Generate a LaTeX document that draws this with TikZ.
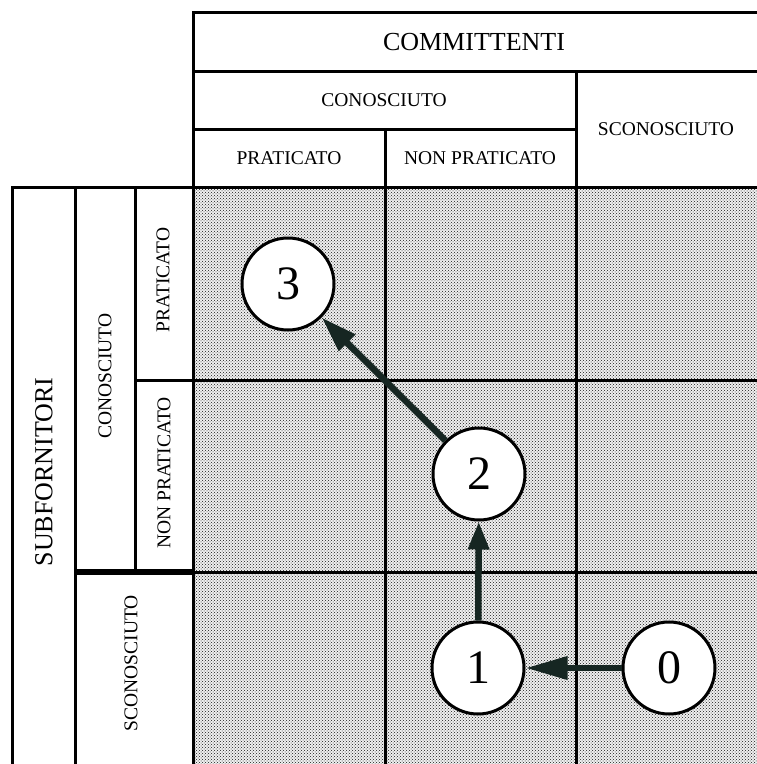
\documentclass[tikz,border=0pt]{standalone}
\usepackage{fontspec}
\setmainfont{Liberation Serif}
\usetikzlibrary{arrows.meta,patterns}
\definecolor{arrowink}{RGB}{22,38,34}
\begin{document}
\begin{tikzpicture}[x=1pt,y=-1pt,
  rule/.style={line width=3pt,line cap=rect},
  heavyrule/.style={line width=5.5pt},
  bigtext/.style={inner sep=0pt,font=\fontsize{26}{30}\selectfont},
  smalltext/.style={inner sep=0pt,font=\fontsize{19.5}{23}\selectfont},
  state/.style={circle,draw,fill=white,line width=3pt,minimum size=92pt,inner sep=0pt,
    font=\fontsize{48}{54}\selectfont},
  flow/.style={draw=arrowink,line width=6.5pt,
    -{Triangle[length=30pt,width=21pt]},arrowink}]
\useasboundingbox (0,0) rectangle (756,764);

% stippled field of the matrix
\fill[black!6] (193,187) rectangle (760,768);
\fill[pattern=crosshatch dots,pattern color=black!90] (193,187) rectangle (760,768);

% header of the columns
\draw[rule] (193,12) -- (760,12);
\draw[rule] (193,71) -- (760,71);
\draw[rule] (193,129) -- (576,129);
\draw[rule] (193,12) -- (193,768);
\draw[rule] (385,129) -- (385,768);
\draw[rule] (576,71) -- (576,768);

% rows and the side header
\draw[rule] (12,187) -- (760,187);
\draw[rule] (135,380) -- (760,380);
\draw[rule] (193,572) -- (760,572);
\draw[heavyrule] (75,572) -- (193,572);
\draw[rule] (12,187) -- (12,768);
\draw[rule] (75,187) -- (75,768);
\draw[rule] (135,187) -- (135,572);

% column labels
\node[bigtext] (committenti) at (474,42) {COMMITTENTI};
\node[smalltext] (cconosciuto) at (384,100) {CONOSCIUTO};
\node[smalltext] (cpraticato) at (289,158) {PRATICATO};
\node[smalltext] (cnonpraticato) at (480,158) {NON PRATICATO};
\node[smalltext] (csconosciuto) at (666,129) {SCONOSCIUTO};

% row labels
\node[bigtext,rotate=90] (subfornitori) at (44,472) {SUBFORNITORI};
\node[smalltext,rotate=90] (rconosciuto) at (105,376) {CONOSCIUTO};
\node[smalltext,rotate=90] (rpraticato) at (163,280) {PRATICATO};
\node[smalltext,rotate=90] (rnonpraticato) at (164,473) {NON PRATICATO};
\node[smalltext,rotate=90] (rsconosciuto) at (131,663) {SCONOSCIUTO};

% states
\node[state] (s3) at (288,284) {3};
\node[state] (s2) at (479,474) {2};
\node[state] (s1) at (478,668) {1};
\node[state] (s0) at (669,668) {0};

% transitions
\draw[flow,-{Triangle[length=42pt,width=22pt]}] (s0) -- (s1);
\draw[flow,-{Triangle[length=28pt,width=20pt]}] (s1) -- (s2);
\draw[flow,-{Triangle[length=36pt,width=22pt]}] (s2) -- (s3);
\end{tikzpicture}
\end{document}
